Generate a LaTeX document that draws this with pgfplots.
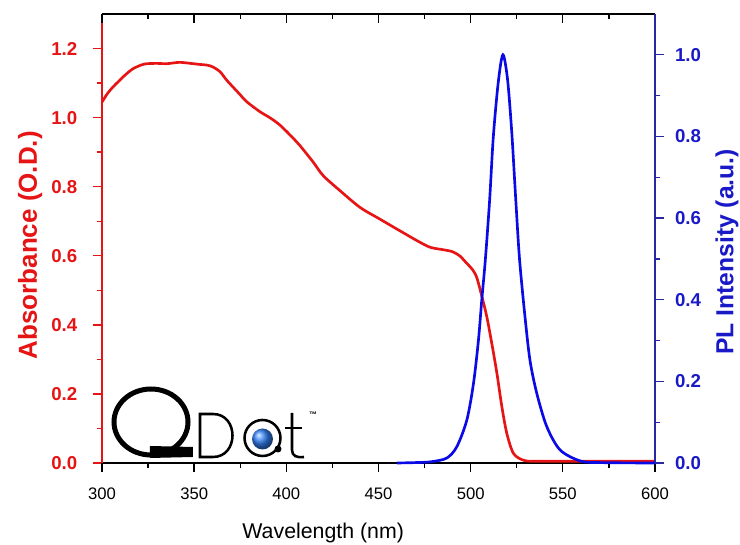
\documentclass[border=0pt]{standalone}
\usepackage{fontspec}
\setmainfont{Liberation Sans}
\usepackage{pgfplots}
\pgfplotsset{compat=1.18}

\definecolor{absred}{RGB}{230,20,20}
\definecolor{plblue}{RGB}{10,10,230}
\definecolor{axblue}{RGB}{40,40,160}
\definecolor{lblblue}{RGB}{25,25,200}

\begin{document}
\begin{tikzpicture}
% absorbance (left axis), box with separately drawn sides
\begin{axis}[
    name=main,
    scale only axis, clip=false,
    width=414.75pt, height=336.75pt,
    xmin=300, xmax=600, ymin=0, ymax=1.3,
    separate axis lines,
    every outer x axis line/.append style={black, line width=0.9pt},
    every outer y axis line/.append style={absred, line width=0.9pt},
    xtick={300,350,400,450,500,550,600}, minor x tick num=1,
    ytick={0,0.2,0.4,0.6,0.8,1.0,1.2}, minor y tick num=1,
    xtick pos=left, ytick pos=left,
    tick align=outside,
    major tick length=6.5pt, minor tick length=4pt,
    every tick/.append style={line width=1pt, black},
    every y tick/.append style={absred},
    /pgf/number format/assume math mode=true,
    yticklabel style={/pgf/number format/fixed, /pgf/number format/fixed zerofill,
                      /pgf/number format/precision=1, xshift=-8.5pt,
                      font=\bfseries\fontsize{14}{16}\selectfont, text=absred},
    xticklabel style={font=\fontsize{12.5}{14}\selectfont, yshift=-8.5pt},
    xlabel={Wavelength (nm)},
    xlabel style={at={(axis description cs:0.40,-0.155)}, anchor=center,
                  font=\fontsize{16}{18}\selectfont},
    ylabel={Absorbance (O.D.)},
    ylabel style={at={(axis description cs:-0.130,0.485)}, anchor=center,
                  font=\bfseries\fontsize{19.5}{22}\selectfont, text=absred},
]
\addplot[absred, line width=2pt, smooth] coordinates {
  (300,1.045) (303,1.070) (306,1.089) (309,1.105) (312.5,1.123) (317,1.142)
  (323,1.155) (330,1.157) (335,1.156) (342,1.160) (348,1.157) (353,1.154)
  (357,1.152) (360,1.147) (364,1.133) (367.7,1.108) (371,1.089) (375,1.066)
  (378.5,1.046) (385.7,1.017) (391,1.000) (396.6,0.978) (404,0.939)
  (407.4,0.919) (414.6,0.871) (420,0.832) (429,0.789) (440,0.740)
  (450.8,0.706) (461.7,0.672) (472.5,0.639) (478.4,0.624) (485.6,0.617)
  (490,0.612) (494,0.600) (497.9,0.578) (501,0.560) (503.3,0.537)
  (506,0.484) (508.7,0.425) (511.4,0.348) (514.2,0.261) (516.9,0.164)
  (519.6,0.086) (523.2,0.028) (528.6,0.008) (535,0.005) (560,0.005)
  (600,0.005)
};
% tick marks drawn explicitly
\pgfplotsinvokeforeach{0,0.2,0.4,0.6,0.8,1.0,1.2}{
  \draw[absred, line width=1pt] (axis cs:300,#1) -- ++(-6.5pt,0pt);}
\pgfplotsinvokeforeach{0.1,0.3,0.5,0.7,0.9,1.1}{
  \draw[absred, line width=1pt] (axis cs:300,#1) -- ++(-4pt,0pt);}
\pgfplotsinvokeforeach{300,350,400,450,500,550,600}{
  \draw[black, line width=1pt] (axis cs:#1,0) -- ++(0pt,-6.5pt);
  \draw[black, line width=1pt] (axis cs:#1,1.3) -- ++(0pt,-6.5pt);}
\pgfplotsinvokeforeach{325,375,425,475,525,575}{
  \draw[black, line width=1pt] (axis cs:#1,0) -- ++(0pt,-4pt);
  \draw[black, line width=1pt] (axis cs:#1,1.3) -- ++(0pt,-4pt);}
\end{axis}

% PL intensity (right axis)
\begin{axis}[
    scale only axis, clip=false,
    width=414.75pt, height=336.75pt,
    xmin=300, xmax=600, ymin=0, ymax=1.1,
    axis y line*=right, axis x line=none,
    y axis line style={axblue, line width=0.9pt},
    ytick={0,0.2,0.4,0.6,0.8,1.0}, minor y tick num=1,
    tick align=outside,
    major tick length=6.5pt, minor tick length=4pt,
    every tick/.append style={line width=1pt, axblue},
    /pgf/number format/assume math mode=true,
    yticklabel style={/pgf/number format/fixed, /pgf/number format/fixed zerofill,
                      /pgf/number format/precision=1, xshift=5pt,
                      font=\bfseries\fontsize{14}{16}\selectfont, text=lblblue},
    ylabel={PL Intensity (a.u.)},
    ylabel style={at={(axis description cs:1.130,0.47)}, anchor=center,
                  font=\bfseries\fontsize{18.5}{21}\selectfont, text=lblblue},
]
\addplot[plblue, line width=2pt, smooth] coordinates {
  (460,0.000) (470,0.001) (478.4,0.003) (487,0.012) (492.5,0.040)
  (497.9,0.105) (501.5,0.194) (504.2,0.300) (506,0.398) (508,0.500)
  (510.3,0.645) (512.3,0.800) (515,0.934) (517.5,1.000) (520,0.940)
  (522.3,0.810) (524.4,0.650) (526.5,0.500) (529.5,0.357) (532.2,0.251)
  (535.9,0.170) (541.3,0.089) (548.5,0.032) (559.4,0.005) (570,0.001)
  (600,0.000)
};
\pgfplotsinvokeforeach{0,0.2,0.4,0.6,0.8,1.0}{
  \draw[axblue, line width=1pt] (axis cs:600,#1) -- ++(6.5pt,0pt);}
\pgfplotsinvokeforeach{0.1,0.3,0.5,0.7,0.9}{
  \draw[axblue, line width=1pt] (axis cs:600,#1) -- ++(4pt,0pt);}
\end{axis}

% QDot logo, in image pixel units
\begin{scope}[shift={(main.south west)}, xshift=-76.5pt, yshift=347.25pt,
              x=0.75pt, y=-0.75pt]
  \draw[line width=3.75pt] (151,422) ellipse [x radius=37, y radius=33];
  \fill (150,446) -- (193,447) -- (193,457) -- (150,458) -- cycle;
  \draw[line width=1.9pt] (200,414) -- (213,414)
      .. controls (239,414) and (239,457) .. (213,457) -- (200,457) -- cycle;
  \draw[line width=1.9pt] (262.5,438) circle [radius=18];
  \shade[ball color={rgb,255:red,50;green,130;blue,245}] (262.5,439) circle [radius=10.5];
  \fill (278,449) circle [radius=3.5];
  \draw[line width=1.9pt] (292,413) -- (292,450) .. controls (292,456) and (297,458) .. (304,457);
  \draw[line width=1.9pt] (285,428) -- (302,428);
  \node[font=\bfseries\fontsize{6}{6}\selectfont] at (313,415) {™};
\end{scope}

\pgfresetboundingbox
\path[use as bounding box] ([xshift=-76.5pt,yshift=-61.5pt]main.south west)
  rectangle ([xshift=478.5pt,yshift=347.25pt]main.south west);
\end{tikzpicture}
\end{document}
